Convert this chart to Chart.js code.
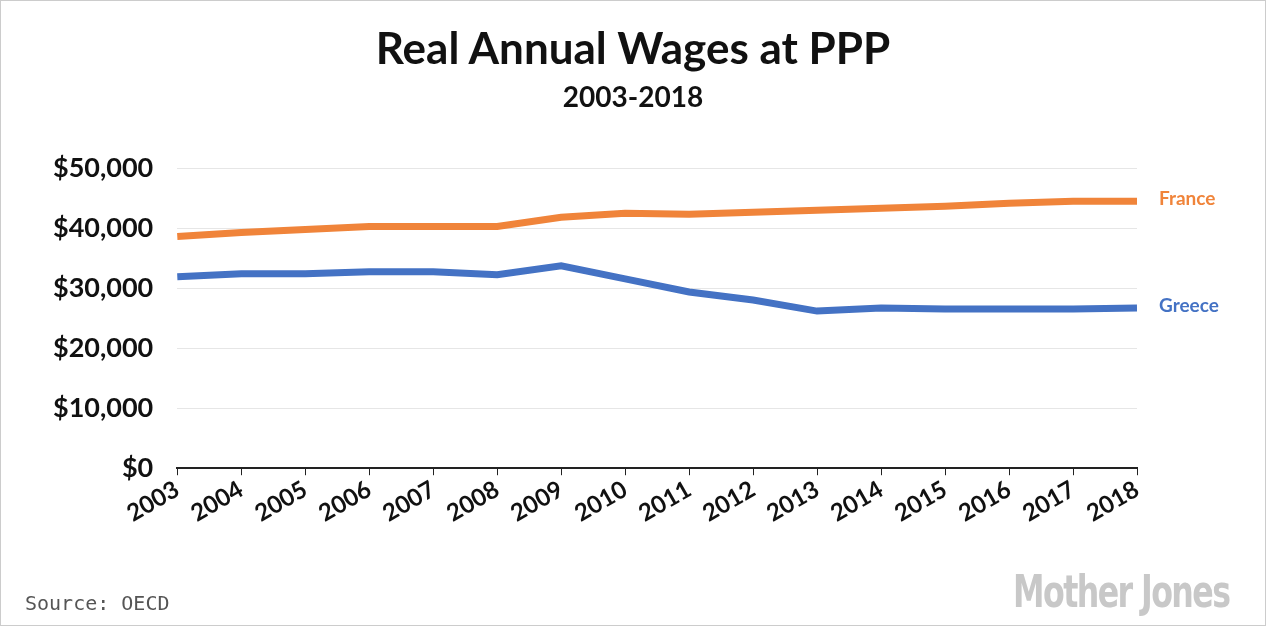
<!DOCTYPE html>
<html><head><meta charset="utf-8">
<script src="https://cdn.jsdelivr.net/npm/chart.js@4"></script>
<style>
html,body{margin:0;padding:0;background:#fff;}
#wrap{position:relative;width:1266px;height:626px;box-sizing:border-box;border:1px solid #ccc;}
#t{position:absolute;left:0;right:0;top:20px;text-align:center;font:bold 44px Lato,sans-serif;color:#111;}
#st{position:absolute;left:0;right:0;top:78px;text-align:center;font:bold 28px Lato,sans-serif;color:#111;}
#src{position:absolute;left:24px;bottom:10px;font:20px "DejaVu Sans Mono","Liberation Mono",monospace;color:#555;}
#logo{position:absolute;right:36px;bottom:8px;font:bold 44px "Liberation Sans Narrow","DejaVu Sans Condensed",sans-serif;color:#c8c8c8;letter-spacing:-2px;transform:scaleX(0.8);transform-origin:right bottom;}
</style></head><body>
<div id="wrap"><canvas id="c" width="1264" height="624"></canvas>
<div id="t">Real Annual Wages at PPP</div><div id="st">2003-2018</div>
<div id="src">Source: OECD</div><div id="logo">Mother Jones</div></div>
<script>
const years=['2003','2004','2005','2006','2007','2008','2009','2010','2011','2012','2013','2014','2015','2016','2017','2018'];
const france=[38600,39260,39770,40270,40270,40270,41780,42450,42280,42620,42950,43290,43620,44130,44460,44460];
const greece=[31880,32380,32380,32720,32720,32210,33720,31540,29360,28020,26170,26680,26510,26510,26510,26680];
const yTicks=[0,10000,20000,30000,40000,50000];
const endLabels={
  id:'endLabels',
  afterDatasetsDraw(ch){
    const ctx=ch.ctx;ctx.save();
    ctx.font='bold 19px Lato, sans-serif';ctx.textBaseline='middle';
    ch.data.datasets.forEach((d,i)=>{
      const m=ch.getDatasetMeta(i);const p=m.data[m.data.length-1];
      ctx.fillStyle=d.borderColor;ctx.fillText(d.label,p.x+22,p.y-2);
    });ctx.restore();
  }
};
new Chart(document.getElementById('c'),{
  type:'line',
  data:{labels:years,datasets:[
    {label:'France',data:france,borderColor:'#f0843a',borderWidth:7,pointRadius:0,tension:0},
    {label:'Greece',data:greece,borderColor:'#4472c4',borderWidth:7,pointRadius:0,tension:0}
  ]},
  options:{responsive:false,animation:false,
    layout:{padding:{left:28,right:128,top:167,bottom:97}},
    plugins:{legend:{display:false},tooltip:{enabled:false}},
    scales:{
      x:{offset:false,grid:{display:true,drawOnChartArea:false,drawTicks:true,tickLength:7,color:'#222'},border:{color:'#222',width:2},
        ticks:{autoSkip:false,color:'#111',font:{family:'Lato',size:24,weight:'bold'},minRotation:30,maxRotation:30,padding:0}},
      y:{min:0,max:50000,afterBuildTicks(a){a.ticks=yTicks.map(v=>({value:v}));},
        grid:{color:'#e6e6e6',drawTicks:false},border:{display:false},
        ticks:{color:'#111',padding:24,font:{family:'Lato',size:27,weight:'bold'},callback:v=>'$'+v.toLocaleString('en-US')}}
    }
  },
  plugins:[endLabels]
});
</script></body></html>
